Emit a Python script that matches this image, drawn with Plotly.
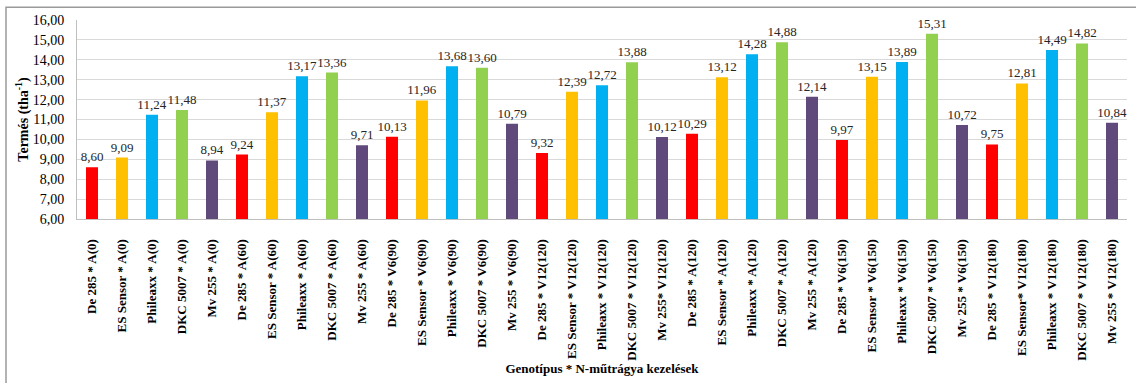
import plotly.graph_objects as go

categories = [
    "De 285 * A(0)", "ES Sensor * A(0)", "Phileaxx * A(0)", "DKC 5007 * A(0)", "Mv 255 * A(0)",
    "De 285 * A(60)", "ES Sensor * A(60)", "Phileaxx * A(60)", "DKC 5007 * A(60)", "Mv 255 * A(60)",
    "De 285 * V6(90)", "ES Sensor * V6(90)", "Phileaxx * V6(90)", "DKC 5007 * V6(90)", "Mv 255 * V6(90)",
    "De 285 * V12(120)", "ES Sensor * V12(120)", "Phileaxx * V12(120)", "DKC 5007 * V12(120)", "Mv 255* V12(120)",
    "De 285 * A(120)", "ES Sensor * A(120)", "Phileaxx * A(120)", "DKC 5007 * A(120)", "Mv 255 * A(120)",
    "De 285 * V6(150)", "ES Sensor * V6(150)", "Phileaxx * V6(150)", "DKC 5007 * V6(150)", "Mv 255 * V6(150)",
    "De 285 * V12(180)", "ES Sensor* V12(180)", "Phileaxx * V12(180)", "DKC 5007 * V12(180)", "Mv 255 * V12(180)",
]
values = [
    8.60, 9.09, 11.24, 11.48, 8.94,
    9.24, 11.37, 13.17, 13.36, 9.71,
    10.13, 11.96, 13.68, 13.60, 10.79,
    9.32, 12.39, 12.72, 13.88, 10.12,
    10.29, 13.12, 14.28, 14.88, 12.14,
    9.97, 13.15, 13.89, 15.31, 10.72,
    9.75, 12.81, 14.49, 14.82, 10.84,
]
genotypes = ["De 285", "ES Sensor", "Phileaxx", "DKC 5007", "Mv 255"]
genotype_colors = ["#FF0000", "#FFC000", "#00B0F0", "#92D050", "#604A7B"]
y_ticks = [6, 7, 8, 9, 10, 11, 12, 13, 14, 15, 16]

bar_colors = [genotype_colors[i % len(genotypes)] for i in range(len(categories))]

font_family = "Liberation Serif, Times New Roman, serif"

fig = go.Figure(
    go.Bar(
        x=categories,
        y=values,
        marker=dict(color=bar_colors, line=dict(width=0)),
        text=values,
        texttemplate="%{y:.2f}",
        textposition="outside",
        constraintext="none",
        textfont=dict(family=font_family, size=13, color="#262626"),
        outsidetextfont=dict(family=font_family, size=13, color="#262626"),
        cliponaxis=False,
        width=0.4,
    )
)

fig.update_layout(
    width=1136,
    height=383,
    margin=dict(l=77, r=9, t=20, b=161),
    plot_bgcolor="white",
    paper_bgcolor="white",
    separators=", ",
    showlegend=False,
    font=dict(family=font_family, color="#000000"),
    xaxis=dict(
        tickangle=-90,
        tickfont=dict(family=font_family, size=13, color="#000000", weight="bold"),
        ticklabelstandoff=14,
        showline=True,
        linecolor="#BFBFBF",
        linewidth=1,
        ticks="",
        title=dict(
            text="<b>Genotípus * N-műtrágya kezelések</b>",
            font=dict(family=font_family, size=13, color="#000000"),
            standoff=4,
        ),
    ),
    yaxis=dict(
        range=[6, 16],
        tickvals=y_ticks,
        tickformat=".2f",
        tickfont=dict(family=font_family, size=14, color="#000000"),
        ticklabelstandoff=9,
        showgrid=True,
        gridcolor="#D9D9D9",
        gridwidth=1,
        showline=True,
        linecolor="#BFBFBF",
        linewidth=1,
        zeroline=False,
        ticks="",
        title=dict(
            text="<b>Termés (tha<sup>-1</sup>)</b>",
            font=dict(family=font_family, size=14, color="#000000"),
            standoff=0,
        ),
    ),
    shapes=[
        dict(
            type="rect", xref="paper", yref="paper",
            x0=(6 - 77) / 1050, x1=(1145 - 77) / 1050,
            y0=(222 - 395) / 202, y1=(222 - 7) / 202,
            line=dict(color="#9A9A9A", width=1.5),
            fillcolor="rgba(0,0,0,0)",
            layer="below",
        )
    ],
)

fig.write_html(
    "out.html",
    config={"displayModeBar": False},
    post_script="document.body.style.margin='0px';document.body.style.overflow='hidden';",
)
